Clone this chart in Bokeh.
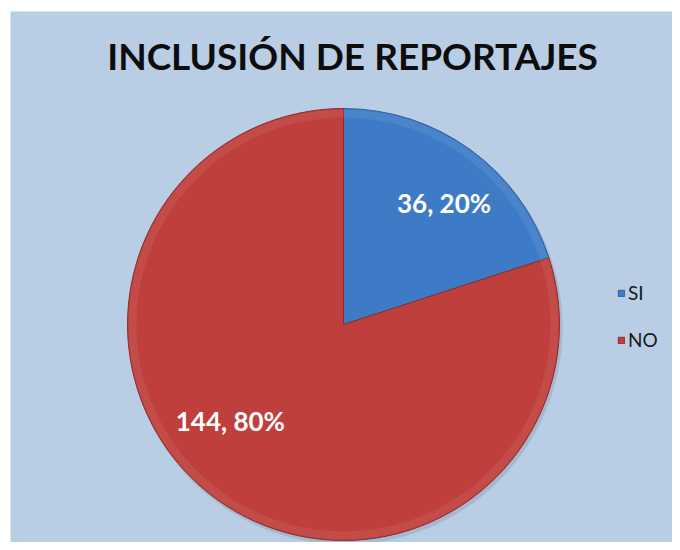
import math
from bokeh.plotting import figure
from bokeh.models import Range1d, Label, Legend, LegendItem, ColumnDataSource
from bokeh.core.properties import value
from bokeh.embed import file_html
from bokeh.resources import INLINE

# ---- data ----
categories = ["SI", "NO"]
counts = [36, 144]
percents = [20, 80]
colors = ["#3D7BC6", "#BF3F3C"]
edge_colors = ["#2E609E", "#8F2C29"]
title_text = "INCLUSIÓN DE REPORTAJES"

W, H = 672, 542
BL, BT = 10, 11
FW, FH = W - BL, H - BT
BG = "#B9CDE5"
FONT = "Lato"

p = figure(width=W, height=H, output_backend="svg", toolbar_location=None,
           x_range=Range1d(0, FW), y_range=Range1d(0, FH),
           min_border=0, min_border_left=BL, min_border_top=BT,
           outline_line_color=None,
           background_fill_color=BG, border_fill_color="white")
p.axis.visible = False
p.grid.visible = False

cx, cy, r = 333, 218, 216
total = sum(counts)
starts, ends = [], []
cum = 0
for c in counts:
    starts.append(math.pi / 2 - 2 * math.pi * cum / total)
    cum += c
    ends.append(math.pi / 2 - 2 * math.pi * cum / total)

src = ColumnDataSource(dict(cat=categories, start=starts, end=ends,
                            color=colors, edge=edge_colors))

# soft shadow
p.circle(x=cx + 2, y=cy - 3, radius=r + 1, fill_color="#7F93AD", fill_alpha=0.35,
         line_color=None)

wedges = p.wedge(x=cx, y=cy, radius=r, start_angle="start", end_angle="end",
                 direction="clock", fill_color="color", line_color="edge",
                 line_width=1, source=src)
# bevel highlight rim
p.annular_wedge(x=cx, y=cy, inner_radius=r - 9, outer_radius=r - 1,
                start_angle="start", end_angle="end", direction="clock",
                fill_color="white", fill_alpha=0.07, line_color=None, source=src)

# data labels
label_angles = [math.radians(50.4), math.radians(220.6)]
label_frac = [0.73, 0.69]
lx = [cx + r * f * math.cos(a) for f, a in zip(label_frac, label_angles)]
ly = [cy + r * f * math.sin(a) for f, a in zip(label_frac, label_angles)]
ltxt = [f"{c}, {pc}%" for c, pc in zip(counts, percents)]
p.text(x=lx, y=ly, text=ltxt, text_align="center", text_baseline="middle",
       text_color="white", text_font=value(FONT), text_font_style="bold",
       text_font_size="26px")

# title
p.add_layout(Label(x=342, y=487, text=title_text, text_align="center",
                   text_baseline="alphabetic", text_font=FONT,
                   text_font_style="bold", text_font_size="37px",
                   text_color="#0D0D0D"))

legend = Legend(items=[LegendItem(label=categories[i], renderers=[wedges], index=i)
                       for i in range(len(categories))],
                location=(607, 191), orientation="vertical",
                glyph_width=8, glyph_height=8, label_height=20, spacing=24,
                label_standoff=3, padding=0, margin=0,
                label_text_font=FONT, label_text_font_size="19px",
                label_text_color="#1A1A1A",
                background_fill_alpha=0, border_line_alpha=0)
p.add_layout(legend)

open("out.html", "w").write(file_html(p, INLINE))
